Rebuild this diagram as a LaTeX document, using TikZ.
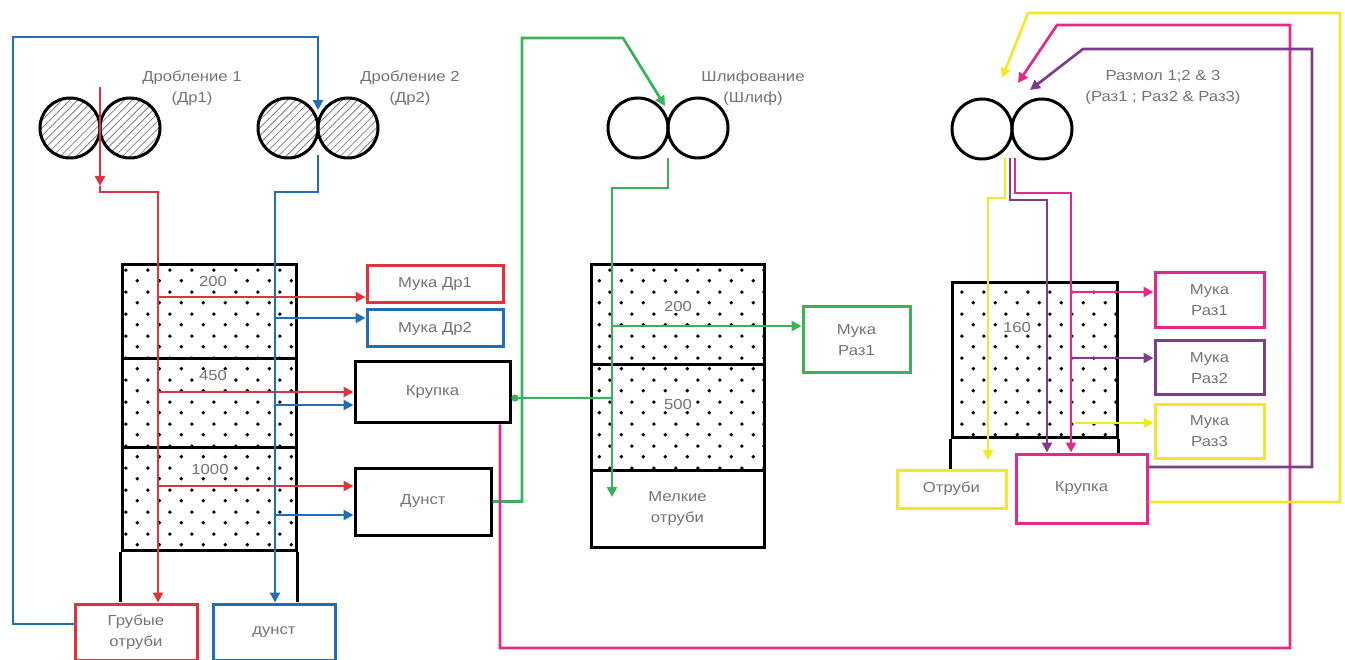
\documentclass[tikz,border=0pt]{standalone}
\usepackage{fontspec}
\setmainfont{Liberation Sans}[FakeStretch=1.15]
\usetikzlibrary{arrows.meta,patterns,patterns.meta}
\definecolor{dred}{RGB}{222,52,62}
\definecolor{dblue}{RGB}{32,110,180}
\definecolor{dgreen}{RGB}{58,178,90}
\definecolor{dpink}{RGB}{228,40,140}
\definecolor{dpurple}{RGB}{128,60,140}
\definecolor{dyellow}{RGB}{240,232,40}
\tikzdeclarepattern{
  name=sievedots,
  type=uncolored,
  bounding box={(0pt,0pt) and (22pt,22pt)},
  tile size={(22pt,22pt)},
  code={\fill (5.5pt,5.5pt) circle (2pt); \fill (16.5pt,16.5pt) circle (2pt);}
}
\tikzset{
  roll/.style={circle, draw, line width=3pt, minimum size=60pt, inner sep=0pt},
  hroll/.style={roll, pattern={Lines[angle=45,distance=5.5pt,line width=0.8pt]}, pattern color=gray},
  sieve/.style={draw, line width=3pt, pattern=sievedots, inner sep=0pt},
  box/.style={draw, line width=3pt, align=center, inner sep=0pt, text=black!55},
  lbl/.style={text=black!55, align=center},
  num/.style={text=black!55, fill=white, inner sep=1pt},
  flow/.style={line width=2.7pt, -{Triangle[length=10pt,width=10pt]}}
}
\begin{document}
\begin{tikzpicture}[x=1pt, y=-1pt, font=\fontsize{14.5}{21}\selectfont]
  \useasboundingbox (0,0) rectangle (1345,660);
  \node[hroll] (dr1a) at (70,128) {};
  \node[hroll] (dr1b) at (130,128) {};
  \node[hroll] (dr2a) at (288,128) {};
  \node[hroll] (dr2b) at (348,128) {};
  \node[roll] (sha) at (638,128) {};
  \node[roll] (shb) at (698,128) {};
  \node[roll] (rza) at (982,129) {};
  \node[roll] (rzb) at (1042,129) {};
  \node[lbl] (tdr1) at (192,88) {Дробление 1\\(Др1)};
  \node[lbl] (tdr2) at (410,88) {Дробление 2\\(Др2)};
  \node[lbl] (tsh) at (753,88) {Шлифование\\(Шлиф)};
  \node[lbl] (trz) at (1163,87) {Размол 1;2 \& 3\\(Раз1 ; Раз2 \& Раз3)};

  \node[sieve, minimum width=174pt, minimum height=94pt] (s1a) at (209,312) {};
  \node[sieve, minimum width=174pt, minimum height=88pt] (s1b) at (209,403) {};
  \node[sieve, minimum width=174pt, minimum height=103pt] (s1c) at (209,498.5) {};
  \draw[line width=3pt] (s1c.south west) -- ++(0,50);
  \draw[line width=3pt] (s1c.south east) -- ++(0,50);
  \node[num] (n200a) at (213,282) {200};
  \node[num] (n450) at (213,376) {450};
  \node[num] (n1000) at (210,470) {1000};

  \node[sieve, minimum width=173pt, minimum height=100pt] (s2a) at (677.5,315) {};
  \node[sieve, minimum width=173pt, minimum height=105pt] (s2b) at (677.5,417.5) {};
  \node[box, text width=173pt, minimum height=77pt] (s2c) at (677.5,508.5) {Мелкие\\отруби};
  \node[num] (n200b) at (678,307) {200};
  \node[num] (n500) at (678,405) {500};

  \node[sieve, minimum width=165pt, minimum height=154pt] (s3) at (1034.5,360) {};
  \node[num] (n160) at (1017,328) {160};

  \node[box, draw=dred, minimum width=136pt, minimum height=37pt] (muka1) at (435,284.5) {Мука Др1};
  \node[box, draw=dblue, minimum width=136pt, minimum height=37pt] (muka2) at (435,328.5) {Мука Др2};
  \node[box, minimum width=155pt, minimum height=61pt] (krupka1) at (432.5,392.5) {Крупка};
  \node[box, minimum width=136pt, minimum height=67pt] (dunst1) at (423,501.5) {Дунст};
  \node[box, draw=dred, minimum width=122pt, minimum height=56pt] (grubye) at (136,632) {Грубые\\отруби};
  \node[box, draw=dblue, minimum width=122pt, minimum height=56pt] (dunst2) at (274,632) {дунст};
  \node[box, draw=dgreen, minimum width=107pt, minimum height=66pt] (mukash) at (856.5,340) {Мука\\Раз1};
  \node[box, draw=dyellow, minimum width=109pt, minimum height=38pt] (otrubi) at (951.5,489) {Отруби};
  \node[box, draw=dpink, minimum width=131pt, minimum height=69pt] (krupka3) at (1081.5,488.5) {Крупка};
  \node[box, draw=dpink, minimum width=109pt, minimum height=55pt] (mr1) at (1209.5,300.5) {Мука\\Раз1};
  \node[box, draw=dpurple, minimum width=109pt, minimum height=54pt] (mr2) at (1209.5,368) {Мука\\Раз2};
  \node[box, draw=dyellow, minimum width=109pt, minimum height=53pt] (mr3) at (1209.5,431.5) {Мука\\Раз3};
  \draw[line width=3pt] (s3.south west) -- (s3.south west |- otrubi.north);
  \draw[line width=3pt] (s3.south east) -- (s3.south east |- krupka3.north);

  \coordinate (r0) at (100,87);
  \coordinate (r1) at (100,186);
  \coordinate (rv) at (158,192);
  \coordinate (ra) at (158,297);
  \coordinate (rb) at (158,392);
  \coordinate (rc) at (158,486);
  \begin{scope}[dred]
    \draw[flow] (r0) -- (r1);
    \draw[flow] (r1) |- (rv) -- (rv |- grubye.north);
    \draw[flow] (ra) -- (ra -| muka1.west);
    \draw[flow] (rb) -- (rb -| krupka1.west);
    \draw[flow] (rc) -- (rc -| dunst1.west);
  \end{scope}

  \coordinate (b1) at (318,110);
  \coordinate (b2) at (318,155);
  \coordinate (bv) at (275,192);
  \coordinate (ba) at (275,318);
  \coordinate (bb) at (275,405);
  \coordinate (bc) at (275,515);
  \begin{scope}[dblue]
    \draw[flow] ([yshift=8pt]grubye.west) -- (13,624) -- (13,37) -- (318,37) -- (b1);
    \draw[flow] (b2) |- (bv) -- (bv |- dunst2.north);
    \draw[flow] (ba) -- (ba -| muka2.west);
    \draw[flow] (bb) -- (bb -| krupka1.west);
    \draw[flow] (bc) -- (bc -| dunst1.west);
  \end{scope}

  \coordinate (g1) at (665,106);
  \coordinate (g2) at (668,158);
  \coordinate (gv) at (612,188);
  \coordinate (g3) at (612,497);
  \coordinate (ga) at (612,326);
  \coordinate (gk) at (612,398);
  \begin{scope}[dgreen]
    \draw[flow] (dunst1.east) -| (522,38) -- (623,38) -- (g1);
    \draw[flow] (g2) |- (gv) -- (g3);
    \draw[flow] (ga) -- (ga -| mukash.west);
    \draw[line width=2.7pt, {Circle[length=7pt]}-] (krupka1.east |- gk) -- (gk);
  \end{scope}

  \coordinate (p1) at (1018,83);
  \coordinate (p2) at (1015,158);
  \coordinate (pv) at (1071,193);
  \coordinate (pa) at (1071,292);
  \coordinate (u1) at (1030,90);
  \coordinate (u2) at (1010,158);
  \coordinate (uv) at (1047,200);
  \coordinate (ua) at (1071,358);
  \coordinate (y1) at (1002,78);
  \coordinate (y2) at (1005,158);
  \coordinate (yv) at (988,198);
  \coordinate (y3) at (988,460);
  \coordinate (ya) at (1075,423);
  \begin{scope}[dpink]
    \draw[flow] (krupka1.south -| 500,0) -- (500,648) -- (1290,648) -- (1290,25) -- (1057,25) -- (p1);
    \draw[flow] (p2) |- (pv) -- (pv |- krupka3.north);
    \draw[flow] (pa) -- (pa -| mr1.west);
  \end{scope}
  \begin{scope}[dpurple]
    \draw[flow] (krupka3.east |- 0,467) -- (1312,467) -- (1312,49) -- (1083,49) -- (u1);
    \draw[flow] (u2) |- (uv) -- (uv |- krupka3.north);
    \draw[flow] (ua) -- (ua -| mr2.west);
  \end{scope}
  \begin{scope}[dyellow]
    \draw[flow] (krupka3.east |- 0,502) -- (1340,502) -- (1340,13) -- (1028,13) -- (y1);
    \draw[flow] (y2) |- (yv) -- (y3);
    \draw[flow] (ya) -- (ya -| mr3.west);
  \end{scope}
\end{tikzpicture}
\end{document}
